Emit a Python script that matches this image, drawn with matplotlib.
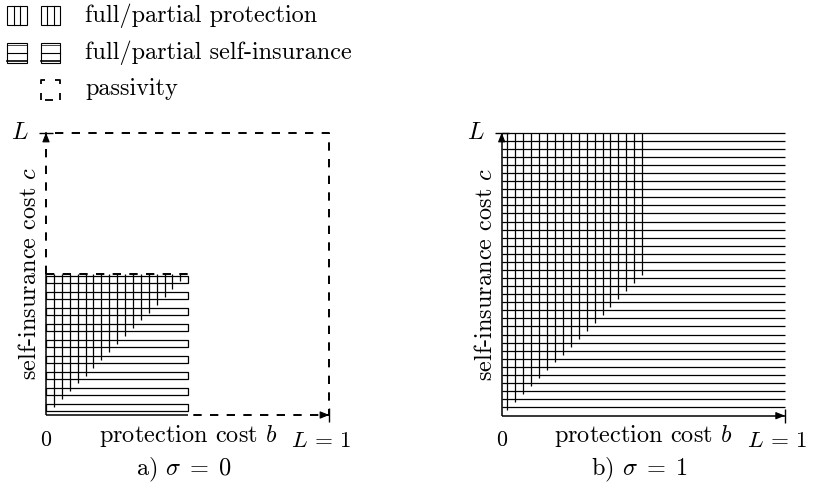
import numpy as np
import matplotlib
matplotlib.use('Agg')
import matplotlib.pyplot as plt
from matplotlib.patches import Rectangle

plt.rcParams['font.family'] = 'cmr10'
plt.rcParams['mathtext.fontset'] = 'cm'
plt.rcParams['axes.unicode_minus'] = False
plt.rcParams['lines.scale_dashes'] = False

# DADOS
L = 1.0
sigmas = [0, 1]
tags = ['a)', 'b)']
lim_a = 0.5          # sigma=0: grade so em [0,0.5]x[0,0.5], resto e passividade
prot_lim_b = 0.5     # sigma=1: protecao so para b < 0.5 (acima da diagonal)
legend_labels = ['full/partial protection', 'full/partial self-insurance', 'passivity']
xlabel = 'protection cost $b$'
ylabel = 'self-insurance cost $c$'

# ESTILO
W, H = 813, 494
FS = 17.5
lw_grid = 0.9
lw_dash = 1.4
dash = (0, (6, 6))
arrow = dict(arrowstyle='-|>,head_length=0.55,head_width=0.22', color='k', lw=0.8,
             mutation_scale=10, shrinkA=0, shrinkB=0)

fig = plt.figure(figsize=(W / 100, H / 100), dpi=100)

# eixo "de fundo" em pixels para textos e legenda
ax0 = fig.add_axes([0, 0, 1, 1])
ax0.set_xlim(0, W)
ax0.set_ylim(H, 0)
ax0.axis('off')

boxes = [(46, 415, 329.3, 132.7), (501.7, 415.7, 785, 132.7)]
axes = []
for (x0, y0, x1, y1) in boxes:
    ax = fig.add_axes([x0 / W, 1 - y0 / H, (x1 - x0) / W, (y0 - y1) / H])
    ax.set_xlim(0, L)
    ax.set_ylim(0, L)
    ax.axis('off')
    axes.append(ax)


def line(ax, xs, ys, **kw):
    kw.setdefault('color', 'k')
    kw.setdefault('lw', lw_grid)
    ax.plot(xs, ys, clip_on=False, solid_capstyle='butt', **kw)


# ---- a) sigma = 0 ----
ax = axes[0]
# protecao: linhas verticais acima da diagonal c = b
for b in np.arange(1, 18) * 0.0279:
    line(ax, [b, b], [b, lim_a])
# auto-seguro: faixas horizontais
for s in 0.014 + np.arange(9) * 2 * 0.0283:
    ax.add_patch(Rectangle((0, s), lim_a, 0.026, fill=False, ec='k', lw=lw_grid,
                           clip_on=False))
# eixos solidos
line(ax, [0, 0], [0, lim_a], lw=1.1)
line(ax, [0, lim_a], [0, 0], lw=1.1)
# passividade (tracejado)
line(ax, [0, 0, L, L, lim_a], [lim_a, L, L, 0, 0], lw=lw_dash, ls=dash)
line(ax, [0, lim_a], [lim_a, lim_a], lw=lw_dash, ls=dash)

# ---- b) sigma = 1 ----
ax = axes[1]
for c in np.linspace(0.03, L, 35):
    line(ax, [0, L], [c, c])
for b in np.linspace(0.02, prot_lim_b - 0.004, 18):
    line(ax, [b, b], [b, L])
line(ax, [0, 0], [0, L], lw=1.1)
line(ax, [0, L], [0, 0], lw=1.1)

# setas, marcas e textos comuns
for i, ax in enumerate(axes):
    ax.annotate('', xy=(0, L), xytext=(0, L - 0.01), arrowprops=arrow,
                annotation_clip=False)
    ax.annotate('', xy=(L, 0), xytext=(L - 0.01, 0), arrowprops=arrow,
                annotation_clip=False)
    ax.plot([0], [L], marker='_', ms=10, mew=1, color='k', clip_on=False)
    ax.plot([L], [0], marker='|', ms=10, mew=1, color='k', clip_on=False)

    x0, y0, x1, y1 = boxes[i]
    cx = (x0 + x1) / 2
    ax0.text(x0 - 17, y1, '$L$', fontsize=FS, ha='right', va='center')
    ax0.text(x0, 440, '0', fontsize=FS * 0.9, ha='center', va='center')
    ax0.text(cx, 436, xlabel, fontsize=FS, ha='center', va='center')
    ax0.text(min(x1 + 22, W - 5), 441, r'$L\,=\,1$', fontsize=FS * 0.95,
             ha='right', va='center')
    ax0.text(x0 - 16, (y0 + y1) / 2, ylabel, fontsize=FS, ha='center', va='center',
             rotation=90)
    ax0.text(cx - 4, 470, tags[i] + r' $\sigma\;=\;%d$' % sigmas[i], fontsize=FS,
             ha='center', va='center')

# LEGENDA
ix = [7.3, 40.7]
iw = 19.5
rows = [6, 43.5, 80.5]
for x in ix:
    y = rows[0]
    ax0.add_patch(Rectangle((x, y), iw, iw, fill=False, ec='k', lw=0.8))
    for f in (1 / 3, 2 / 3):
        ax0.plot([x + f * iw] * 2, [y, y + iw], color='k', lw=0.8)
    y = rows[1]
    ax0.add_patch(Rectangle((x, y), iw, iw, fill=False, ec='k', lw=0.8))
    ax0.plot([x, x + iw], [y + iw / 2] * 2, color='k', lw=0.8)
    ax0.plot([x, x + iw], [y + iw - 1.5] * 2, color='k', lw=1.2)
    ax0.plot([x, x + iw], [y + 1.5] * 2, color='k', lw=0.5)

# icone tracejado
x, y = ix[1], rows[2]
segs = [([x, x, x + 4.5], [y + 3.5, y, y]),
        ([x + iw - 5, x + iw, x + iw], [y, y, y + 3.5]),
        ([x, x], [y + 12.5, y + iw]),
        ([x + iw, x + iw], [y + 12.5, y + iw]),
        ([x + 4.5, x + 12.5], [y + iw, y + iw])]
for xs, ys in segs:
    ax0.plot(xs, ys, color='k', lw=1.3, solid_capstyle='butt')

for lab, yb in zip(legend_labels, [21.5, 59, 95.5]):
    ax0.text(85, yb, lab, fontsize=FS, ha='left', va='baseline')

fig.savefig('out.png', dpi=100)
